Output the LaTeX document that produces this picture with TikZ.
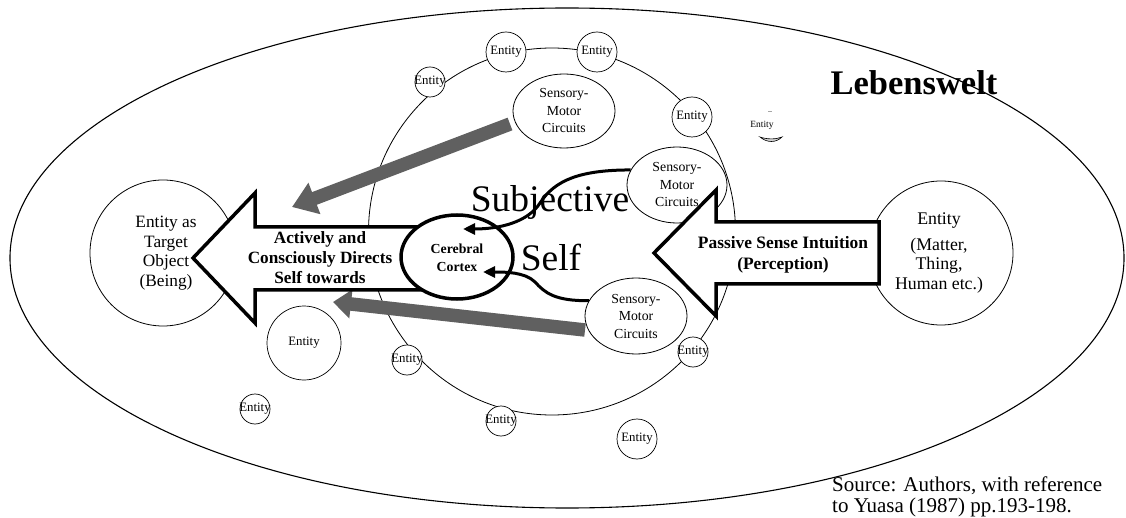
\documentclass[tikz,border=0pt]{standalone}
\usepackage{fontspec}
\setmainfont{Liberation Serif}
\usetikzlibrary{shapes.geometric,arrows.meta}
\definecolor{arrowgray}{RGB}{96,96,96}
\begin{document}
\begin{tikzpicture}[x=1pt,y=-1pt,
  ent/.style={circle, draw, fill=white, line width=0.7pt, inner sep=0pt},
  entt/.style={font=\fontsize{12.8}{14}\selectfont, inner sep=0pt},
  smc/.style={ellipse, draw, fill=white, line width=0.8pt, inner sep=0pt},
  smt/.style={align=center, font=\fontsize{13.8}{17.5}\selectfont, inner sep=0pt},
  bigarrow/.style={draw, fill=white, line width=3.5pt, line join=miter},
  grayarrowA/.style={line width=13.5pt, draw=arrowgray, -{Triangle[length=24pt,width=32pt,fill=arrowgray]}},
  grayarrowB/.style={line width=13.5pt, draw=arrowgray, -{Triangle[length=18pt,width=28pt,fill=arrowgray]}},
  curvearrow/.style={line width=3pt, -{Triangle[length=12pt,width=11pt]}},
  boldtxt/.style={align=center, font=\bfseries}
]
\useasboundingbox (0,0) rectangle (1126,518);
\fill[white] (0,0) rectangle (1126,518);

% Lebenswelt ellipse and inner circle
\draw[line width=1.1pt] (567,258) ellipse [x radius=557pt, y radius=250pt];
\draw[line width=0.8pt] (552,231.5) circle [radius=183.5pt];

% entities
\node[ent, minimum size=30pt, label={[entt]center:Entity}] (e1) at (430,82) {};
\node[ent, minimum size=40pt, label={[entt]center:Entity}] (e2) at (506,52) {};
\node[ent, minimum size=40pt, label={[entt]center:Entity}] (e3) at (597,52) {};
\node[ent, minimum size=40pt, label={[entt]center:Entity}] (e4) at (692,117) {};
\node[ent, minimum size=74pt, label={[entt]center:Entity}] (e6) at (304,343) {};
\node[ent, minimum size=30pt, label={[entt]center:Entity}] (e7) at (407,360) {};
\node[ent, minimum size=30pt, label={[entt]center:Entity}] (e8) at (255,409) {};
\node[ent, minimum size=30pt, label={[entt]center:Entity}] (e9) at (501,421) {};
\node[ent, minimum size=40pt, label={[entt]center:Entity}] (e10) at (637,439) {};
\node[ent, minimum size=30pt, label={[entt]center:Entity}] (e11) at (693,352) {};

% faint entity
\node[font=\fontsize{9.5}{11}\selectfont, inner sep=0pt] (e5) at (762,125) {Entity};
\draw[gray!70, line width=0.5pt] (768,111) -- (772,111);
\draw[line width=0.6pt, fill=gray!35] (760,137) .. controls (767,143) and (776,143) .. (782,137) .. controls (776,139.5) and (767,139.5) .. (760,137) -- cycle;

% sensory-motor circuits
\node[smc, minimum width=102pt, minimum height=74pt, label={[smt]center:{Sensory-\\Motor\\Circuits}}] (s1) at (564,111) {};
\node[smc, minimum width=102pt, minimum height=76pt, label={[smt]center:{Sensory-\\Motor\\Circuits}}] (s3) at (636,316) {};

% target entity and right entity
\node[ent, line width=0.8pt, minimum size=146pt] (target) at (163,253) {};
\node[align=center, font=\fontsize{17.3}{19.5}\selectfont] (targett) at (166,253) {Entity as\\Target\\Object\\(Being)};
\node[ent, line width=0.8pt, minimum size=144pt] (thing) at (941,253) {};
\node[align=center, font=\fontsize{17.8}{19.5}\selectfont] (thingt) at (939,253) {Entity\\[6pt](Matter,\\Thing,\\Human etc.)};

% gray arrows
\coordinate (g1s) at (510,124);
\coordinate (g1e) at (292,207);
\coordinate (g2s) at (585,330);
\coordinate (g2e) at (333,302);
\draw[grayarrowA] (g1s) -- (g1e);
\draw[grayarrowB] (g2s) -- (g2e);

% Actively arrow
\draw[bigarrow] (440,227) -- (255,227) -- (255,193) -- (193,258) -- (255,323) -- (255,290) -- (440,290) -- cycle;
\node[boldtxt, font=\fontsize{17.2}{20}\selectfont\bfseries] (act) at (320,258) {Actively and\\Consciously Directs\\Self towards};

% cerebral cortex
\node[ellipse, draw, fill=white, line width=3.5pt, minimum width=112pt, minimum height=84pt, inner sep=0pt] (cc) at (457,257) {};
\node[boldtxt, font=\fontsize{13.8}{18}\selectfont\bfseries] (cct) at (457,258) {Cerebral\\Cortex};

% subjective self text
\node[font=\fontsize{37.5}{40}\selectfont, inner sep=0pt] (subj) at (550,202) {Subjective};
\node[font=\fontsize{37.5}{40}\selectfont, inner sep=0pt] (self) at (551,257) {Self};

% upper sensory-motor and curved arrows
\node[smc, minimum width=100pt, minimum height=76pt, label={[smt]center:{Sensory-\\Motor\\Circuits}}] (s2) at (677,185) {};
\coordinate (t1) at (463,229);
\coordinate (t2) at (483,272);
\draw[curvearrow] (s2.162) .. controls (580,170) and (555,180) .. (540,203) .. controls (528,222) and (500,229) .. (t1);
\draw[curvearrow] (s3.162) .. controls (555,301) and (545,293) .. (535,282) .. controls (525,272) and (505,272) .. (t2);

% Passive arrow
\draw[bigarrow] (879,222) -- (716,222) -- (716,190) -- (654,253) -- (716,316) -- (716,284) -- (879,284) -- cycle;
\node[boldtxt, font=\fontsize{17.4}{21}\selectfont\bfseries] (pass) at (783,254.5) {Passive Sense Intuition\\(Perception)};

% labels
\node[font=\fontsize{34.5}{40}\selectfont\bfseries, inner sep=0pt] (lw) at (914,83) {Lebenswelt};
\node[anchor=west, align=left, font=\fontsize{21}{21}\selectfont, inner sep=0pt] (src) at (832,497) {Source: Authors, with reference\\to Yuasa (1987) pp.193-198.};
\end{tikzpicture}
\end{document}
